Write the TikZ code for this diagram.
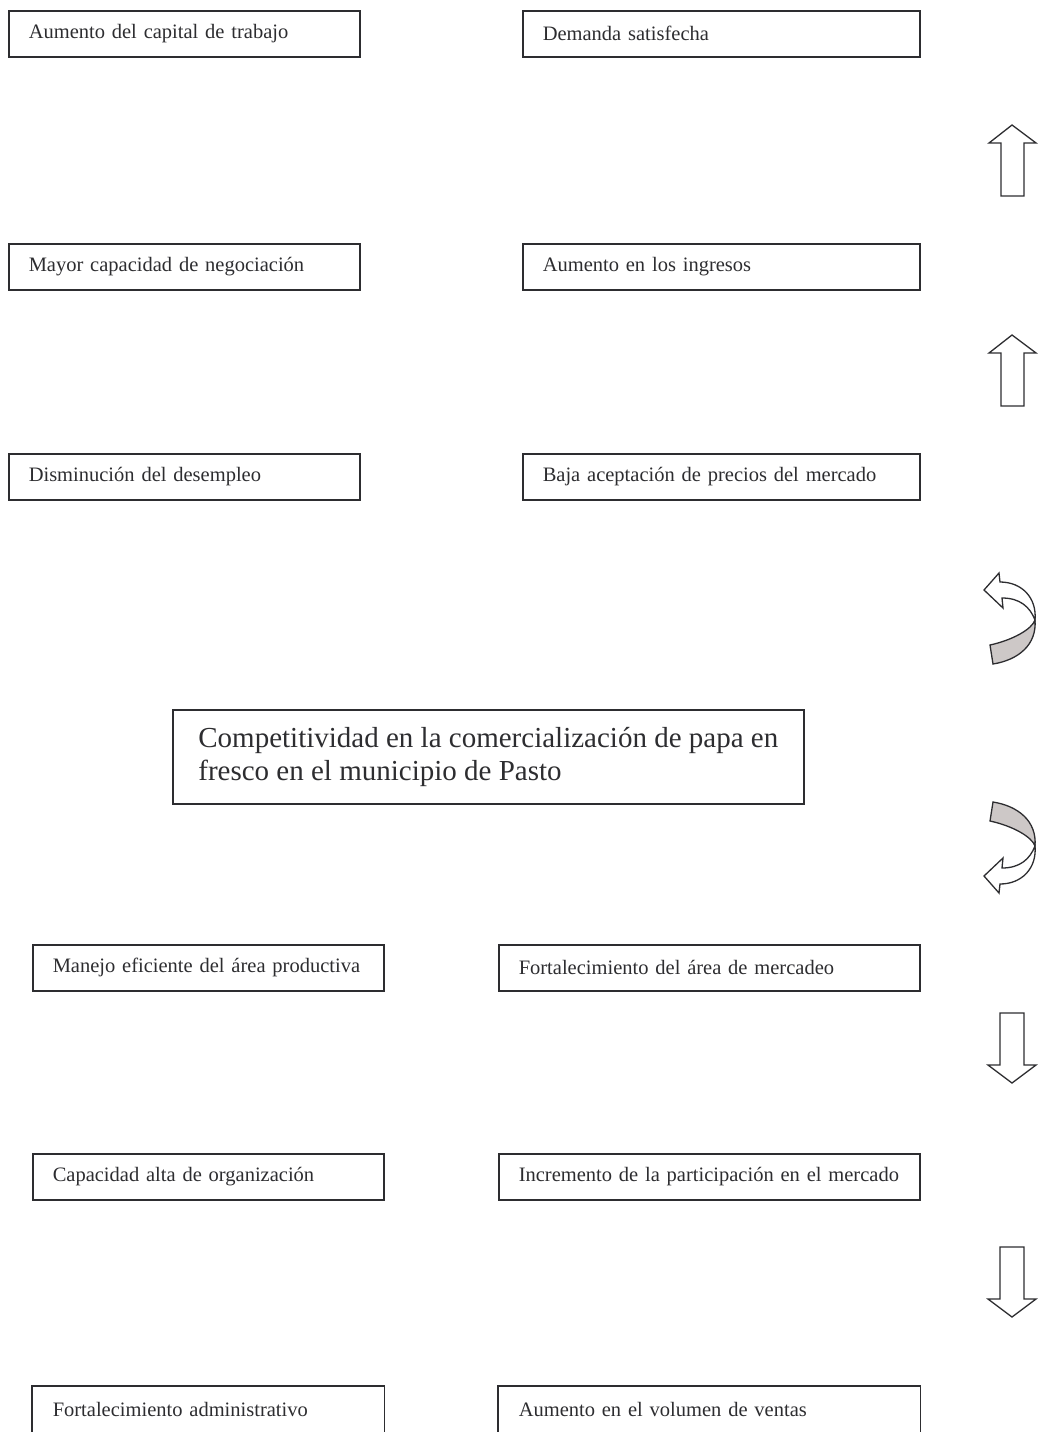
\documentclass[tikz,border=0pt]{standalone}
\usepackage{fontspec}
\setmainfont{Liberation Serif}
\definecolor{edge}{RGB}{45,45,48}
\definecolor{twist}{RGB}{205,200,199}
\tikzset{
  box/.style={draw=edge, line width=1.5pt, anchor=north west, inner xsep=20pt, inner ysep=0pt,
    minimum height=46pt, align=left, font=\fontsize{20.5}{24}\selectfont, text=edge},
  openbox/.style={box, draw=none},
  bigbox/.style={draw=edge, line width=1.5pt, anchor=north west, inner xsep=0pt, inner ysep=0pt,
    minimum width=631pt, minimum height=94pt, align=left, font=\fontsize{29}{33}\selectfont, text=edge},
  blockarrow/.style={draw=edge, line width=1.3pt, fill=white, line join=miter},
  pics/uparrow/.style={code={
    \draw[blockarrow] (0,0) -- (24,18) -- (12,18) -- (12,71) -- (-11,71) -- (-11,18) -- (-23,18) -- cycle;}},
  pics/downarrow/.style={code={
    \draw[blockarrow] (0,0) -- (24,-18) -- (12,-18) -- (12,-70) -- (-12,-70) -- (-12,-18) -- (-24,-18) -- cycle;}},
  pics/curvedup/.style={code={
    \draw[blockarrow, fill=twist] (25,1) .. controls (27,26) and (8,41) .. (-17,45) -- (-20,26)
        .. controls (3,21) and (22,10) .. (25,1) -- cycle;
    \draw[blockarrow] (-26,-29) -- (-11,-46) -- (-10,-37) .. controls (12,-37) and (27,-21) .. (25,1)
        .. controls (20,-12) and (10,-21) .. (-8,-21) -- (-7,-11) -- cycle;}},
  pics/curveddown/.style={code={
    \draw[blockarrow, fill=twist] (25,-1) .. controls (27,-26) and (8,-41) .. (-17,-45) -- (-20,-26)
        .. controls (3,-21) and (22,-10) .. (25,-1) -- cycle;
    \draw[blockarrow] (-26,29) -- (-11,46) -- (-10,37) .. controls (12,37) and (27,21) .. (25,-1)
        .. controls (20,12) and (10,21) .. (-8,21) -- (-7,11) -- cycle;}}
}
\begin{document}
\begin{tikzpicture}[x=1pt,y=-1pt]
\useasboundingbox (0,0) rectangle (1039,1432);
% upper boxes
\node[box, text width=311pt] (b1) at (8,10) {Aumento del capital de trabajo};
\node[box, text width=357pt] (b2) at (522,10) {Demanda satisfecha};
\node[box, text width=311pt] (b3) at (8,243) {Mayor capacidad de negociación};
\node[box, text width=357pt] (b4) at (522,243) {Aumento en los ingresos};
\node[box, text width=311pt] (b5) at (8,453) {Disminución del desempleo};
\node[box, text width=357pt] (b6) at (522,453) {Baja aceptación de precios del mercado};
% central
\node[bigbox] (c) at (172,709) {Competitividad en la comercialización de papa en\\fresco en el municipio de Pasto};
% lower boxes
\node[box, text width=311pt] (d1) at (32,944) {Manejo eficiente del área productiva};
\node[box, text width=381pt] (d2) at (498,944) {Fortalecimiento del área de mercadeo};
\node[box, text width=311pt] (d3) at (32,1153) {Capacidad alta de organización};
\node[box, text width=381pt] (d4) at (498,1153) {Incremento de la participación en el mercado};
\node[openbox, text width=311pt] (d5) at (32,1386) {Fortalecimiento administrativo};
\node[openbox, text width=381pt] (d6) at (498,1386) {Aumento en el volumen de ventas};
\draw[draw=edge, line width=1.5pt] (d5.south west) -- (d5.north west) -- (d5.north east) -- (d5.south east);
\draw[draw=edge, line width=1.5pt] (d6.south west) -- (d6.north west) -- (d6.north east) -- (d6.south east);
% arrows on the right
\pic at (1012,125) {uparrow};
\pic at (1012,335) {uparrow};
\pic at (1010,619) {curvedup};
\pic at (1010,847) {curveddown};
\pic at (1012,1083) {downarrow};
\pic at (1012,1317) {downarrow};
\end{tikzpicture}
\end{document}
